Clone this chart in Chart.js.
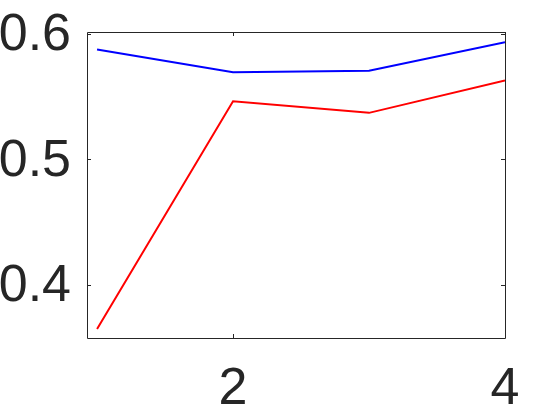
<!DOCTYPE html>
<html>
<head>
<meta charset="utf-8">
<script src="https://cdn.jsdelivr.net/npm/chart.js@4/dist/chart.umd.min.js"></script>
<style>
html,body{margin:0;padding:0;background:#fff;}
canvas{display:block;}
</style>
</head>
<body>
<canvas id="c" width="559" height="418"></canvas>
<script>
const xValues = [1, 2, 3, 4];
const blueSeries = [0.5873, 0.5692, 0.5705, 0.5931];
const redSeries = [0.3648, 0.5462, 0.5369, 0.5626];
const xTickValues = [2, 4];
const yTickValues = [0.4, 0.5, 0.6];
const yTickLabels = ['0.4', '0.5', '0.6'];
const xTickLabels = ['2', '4'];

const FONT = "'Liberation Sans', Arial, Helvetica, sans-serif";
const AXIS_COLOR = '#262626';

const boxPlugin = {
  id: 'boxPlugin',
  afterDraw(chart) {
    const {ctx, chartArea: a, scales} = chart;
    ctx.save();
    ctx.strokeStyle = AXIS_COLOR;
    ctx.lineWidth = 1;
    ctx.beginPath();
    ctx.rect(Math.round(a.left) + 0.5, Math.round(a.top) + 0.5, Math.round(a.right - a.left), Math.round(a.bottom - a.top));
    ctx.stroke();
    const tl = 4;
    ctx.beginPath();
    xTickValues.forEach(v => {
      const px = Math.round(scales.x.getPixelForValue(v)) + 0.5;
      ctx.moveTo(px, a.bottom); ctx.lineTo(px, a.bottom - tl);
      ctx.moveTo(px, a.top); ctx.lineTo(px, a.top + tl);
    });
    yTickValues.forEach(v => {
      const py = Math.round(scales.y.getPixelForValue(v)) + 0.5;
      ctx.moveTo(a.left, py); ctx.lineTo(a.left + tl, py);
      ctx.moveTo(a.right, py); ctx.lineTo(a.right - tl, py);
    });
    ctx.stroke();
    ctx.restore();
  }
};

new Chart(document.getElementById('c'), {
  type: 'line',
  data: {
    datasets: [
      {
        data: xValues.map((x, i) => ({x, y: blueSeries[i]})),
        borderColor: '#0000ff',
        borderWidth: 2,
        pointRadius: 0,
        tension: 0,
        fill: false
      },
      {
        data: xValues.map((x, i) => ({x, y: redSeries[i]})),
        borderColor: '#ff0000',
        borderWidth: 2,
        pointRadius: 0,
        tension: 0,
        fill: false
      }
    ]
  },
  options: {
    responsive: false,
    animation: false,
    devicePixelRatio: 1,
    layout: {padding: {left: 0, top: 32, right: 54, bottom: 0}},
    plugins: {legend: {display: false}, tooltip: {enabled: false}},
    scales: {
      x: {
        type: 'linear',
        min: 0.926,
        max: 4,
        grid: {display: false, drawTicks: false},
        border: {display: false},
        afterBuildTicks: s => { s.ticks = xTickValues.map(v => ({value: v})); },
        afterFit: s => { s.height = 80; s.paddingLeft = 0; s.paddingRight = 0; },
        ticks: {
          autoSkip: false,
          maxRotation: 0,
          padding: 20,
          color: AXIS_COLOR,
          font: {family: FONT, size: 52},
          callback: (v) => xTickLabels[xTickValues.indexOf(v)]
        }
      },
      y: {
        type: 'linear',
        min: 0.3576,
        max: 0.6013,
        grid: {display: false, drawTicks: false},
        border: {display: false},
        afterBuildTicks: s => { s.ticks = yTickValues.map(v => ({value: v})); },
        afterFit: s => { s.width = 87; s.paddingTop = 0; s.paddingBottom = 0; },
        ticks: {
          autoSkip: false,
          padding: 16,
          labelOffset: 2,
          color: AXIS_COLOR,
          font: {family: FONT, size: 52},
          callback: (v) => {
            const i = yTickValues.findIndex(t => Math.abs(t - v) < 1e-9);
            return i >= 0 ? yTickLabels[i] : '';
          }
        }
      }
    }
  },
  plugins: [boxPlugin]
});
</script>
</body>
</html>
